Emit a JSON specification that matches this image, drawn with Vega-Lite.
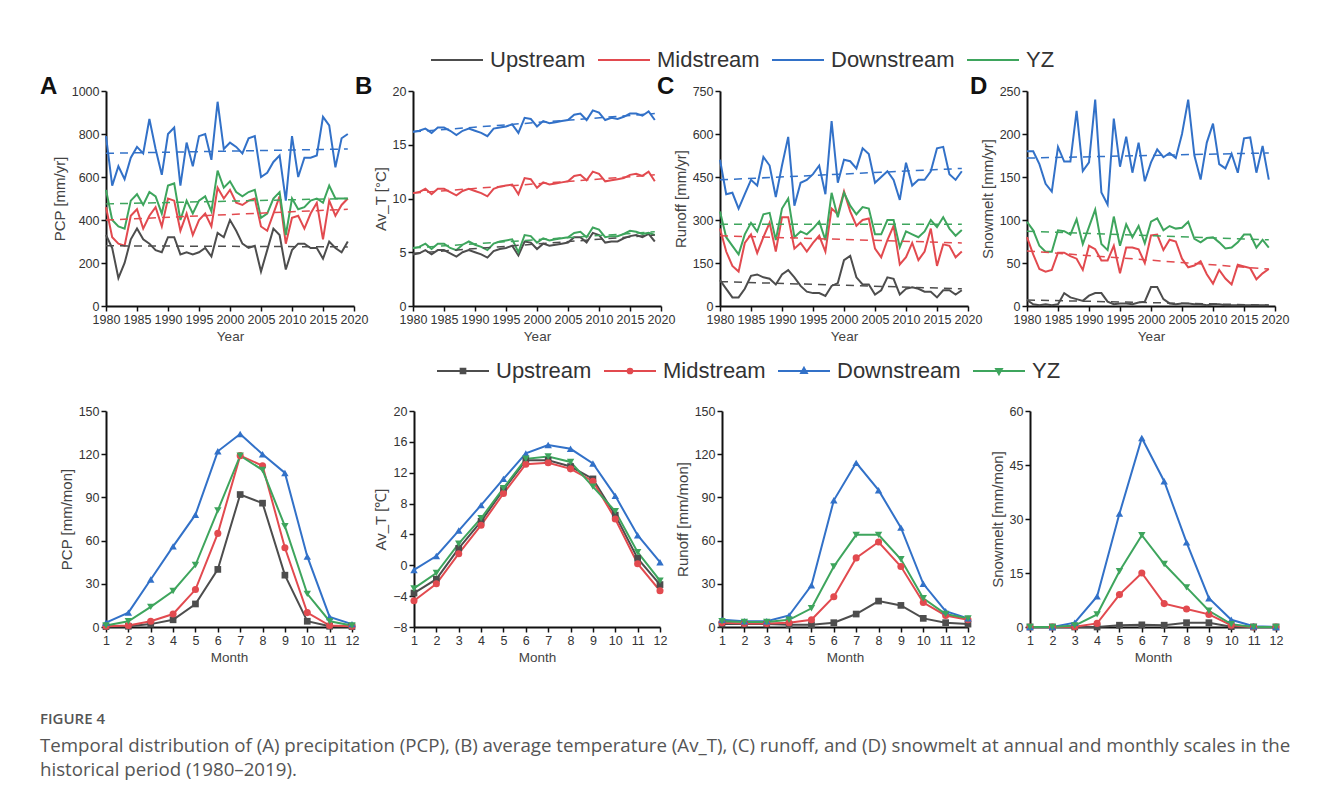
{
"$schema": "https://vega.github.io/schema/vega-lite/v6.json",
"background": "white",
"padding": {"left": 40, "top": 33, "right": 20, "bottom": 20},
"datasets": {
"annual": [
{"v":"PCP","year":1980,"Upstream":330,"Midstream":460,"Downstream":790,"YZ":540},
{"v":"PCP","year":1981,"Upstream":270,"Midstream":320,"Downstream":560,"YZ":400},
{"v":"PCP","year":1982,"Upstream":130,"Midstream":290,"Downstream":650,"YZ":370},
{"v":"PCP","year":1983,"Upstream":200,"Midstream":280,"Downstream":590,"YZ":360},
{"v":"PCP","year":1984,"Upstream":310,"Midstream":420,"Downstream":690,"YZ":490},
{"v":"PCP","year":1985,"Upstream":360,"Midstream":450,"Downstream":740,"YZ":520},
{"v":"PCP","year":1986,"Upstream":310,"Midstream":360,"Downstream":710,"YZ":470},
{"v":"PCP","year":1987,"Upstream":290,"Midstream":420,"Downstream":870,"YZ":530},
{"v":"PCP","year":1988,"Upstream":260,"Midstream":460,"Downstream":730,"YZ":510},
{"v":"PCP","year":1989,"Upstream":250,"Midstream":370,"Downstream":610,"YZ":430},
{"v":"PCP","year":1990,"Upstream":320,"Midstream":500,"Downstream":800,"YZ":560},
{"v":"PCP","year":1991,"Upstream":320,"Midstream":490,"Downstream":830,"YZ":570},
{"v":"PCP","year":1992,"Upstream":240,"Midstream":350,"Downstream":560,"YZ":400},
{"v":"PCP","year":1993,"Upstream":250,"Midstream":430,"Downstream":760,"YZ":490},
{"v":"PCP","year":1994,"Upstream":240,"Midstream":330,"Downstream":650,"YZ":430},
{"v":"PCP","year":1995,"Upstream":250,"Midstream":400,"Downstream":790,"YZ":490},
{"v":"PCP","year":1996,"Upstream":270,"Midstream":430,"Downstream":800,"YZ":510},
{"v":"PCP","year":1997,"Upstream":230,"Midstream":370,"Downstream":680,"YZ":440},
{"v":"PCP","year":1998,"Upstream":340,"Midstream":550,"Downstream":950,"YZ":630},
{"v":"PCP","year":1999,"Upstream":320,"Midstream":500,"Downstream":730,"YZ":550},
{"v":"PCP","year":2000,"Upstream":400,"Midstream":540,"Downstream":760,"YZ":580},
{"v":"PCP","year":2001,"Upstream":350,"Midstream":480,"Downstream":740,"YZ":530},
{"v":"PCP","year":2002,"Upstream":290,"Midstream":470,"Downstream":710,"YZ":510},
{"v":"PCP","year":2003,"Upstream":270,"Midstream":490,"Downstream":780,"YZ":530},
{"v":"PCP","year":2004,"Upstream":280,"Midstream":500,"Downstream":790,"YZ":540},
{"v":"PCP","year":2005,"Upstream":160,"Midstream":370,"Downstream":600,"YZ":410},
{"v":"PCP","year":2006,"Upstream":260,"Midstream":350,"Downstream":620,"YZ":430},
{"v":"PCP","year":2007,"Upstream":360,"Midstream":430,"Downstream":670,"YZ":500},
{"v":"PCP","year":2008,"Upstream":330,"Midstream":510,"Downstream":700,"YZ":530},
{"v":"PCP","year":2009,"Upstream":170,"Midstream":290,"Downstream":490,"YZ":330},
{"v":"PCP","year":2010,"Upstream":260,"Midstream":410,"Downstream":790,"YZ":500},
{"v":"PCP","year":2011,"Upstream":290,"Midstream":420,"Downstream":600,"YZ":450},
{"v":"PCP","year":2012,"Upstream":290,"Midstream":360,"Downstream":690,"YZ":460},
{"v":"PCP","year":2013,"Upstream":270,"Midstream":430,"Downstream":690,"YZ":490},
{"v":"PCP","year":2014,"Upstream":270,"Midstream":480,"Downstream":700,"YZ":500},
{"v":"PCP","year":2015,"Upstream":220,"Midstream":310,"Downstream":880,"YZ":480},
{"v":"PCP","year":2016,"Upstream":300,"Midstream":490,"Downstream":840,"YZ":560},
{"v":"PCP","year":2017,"Upstream":270,"Midstream":420,"Downstream":645,"YZ":500},
{"v":"PCP","year":2018,"Upstream":250,"Midstream":470,"Downstream":780,"YZ":500},
{"v":"PCP","year":2019,"Upstream":300,"Midstream":500,"Downstream":800,"YZ":500},
{"v":"AvT","year":1980,"Upstream":4.8,"Midstream":10.5,"Downstream":16.2,"YZ":5.4},
{"v":"AvT","year":1981,"Upstream":4.9,"Midstream":10.6,"Downstream":16.3,"YZ":5.5},
{"v":"AvT","year":1982,"Upstream":5.2,"Midstream":10.9,"Downstream":16.5,"YZ":5.8},
{"v":"AvT","year":1983,"Upstream":4.8,"Midstream":10.4,"Downstream":16.1,"YZ":5.3},
{"v":"AvT","year":1984,"Upstream":5.2,"Midstream":10.9,"Downstream":16.6,"YZ":5.8},
{"v":"AvT","year":1985,"Upstream":5.2,"Midstream":10.9,"Downstream":16.6,"YZ":5.8},
{"v":"AvT","year":1986,"Upstream":4.9,"Midstream":10.6,"Downstream":16.3,"YZ":5.4},
{"v":"AvT","year":1987,"Upstream":4.6,"Midstream":10.3,"Downstream":15.9,"YZ":5.2},
{"v":"AvT","year":1988,"Upstream":5.0,"Midstream":10.7,"Downstream":16.3,"YZ":5.7},
{"v":"AvT","year":1989,"Upstream":5.2,"Midstream":10.9,"Downstream":16.5,"YZ":6.0},
{"v":"AvT","year":1990,"Upstream":5.0,"Midstream":10.7,"Downstream":16.3,"YZ":5.7},
{"v":"AvT","year":1991,"Upstream":4.8,"Midstream":10.5,"Downstream":16.1,"YZ":5.5},
{"v":"AvT","year":1992,"Upstream":4.5,"Midstream":10.2,"Downstream":15.8,"YZ":5.2},
{"v":"AvT","year":1993,"Upstream":5.1,"Midstream":10.9,"Downstream":16.5,"YZ":5.8},
{"v":"AvT","year":1994,"Upstream":5.3,"Midstream":11.1,"Downstream":16.6,"YZ":6.0},
{"v":"AvT","year":1995,"Upstream":5.4,"Midstream":11.2,"Downstream":16.7,"YZ":6.1},
{"v":"AvT","year":1996,"Upstream":5.6,"Midstream":11.3,"Downstream":16.9,"YZ":6.2},
{"v":"AvT","year":1997,"Upstream":4.7,"Midstream":10.4,"Downstream":16.1,"YZ":5.0},
{"v":"AvT","year":1998,"Upstream":6.0,"Midstream":11.9,"Downstream":17.5,"YZ":6.6},
{"v":"AvT","year":1999,"Upstream":5.9,"Midstream":11.8,"Downstream":17.4,"YZ":6.5},
{"v":"AvT","year":2000,"Upstream":5.3,"Midstream":11.0,"Downstream":16.7,"YZ":5.9},
{"v":"AvT","year":2001,"Upstream":5.8,"Midstream":11.5,"Downstream":17.2,"YZ":6.3},
{"v":"AvT","year":2002,"Upstream":5.6,"Midstream":11.3,"Downstream":17.0,"YZ":6.1},
{"v":"AvT","year":2003,"Upstream":5.7,"Midstream":11.4,"Downstream":17.1,"YZ":6.2},
{"v":"AvT","year":2004,"Upstream":5.8,"Midstream":11.5,"Downstream":17.2,"YZ":6.3},
{"v":"AvT","year":2005,"Upstream":5.9,"Midstream":11.6,"Downstream":17.3,"YZ":6.4},
{"v":"AvT","year":2006,"Upstream":6.4,"Midstream":12.1,"Downstream":17.8,"YZ":6.8},
{"v":"AvT","year":2007,"Upstream":6.4,"Midstream":12.2,"Downstream":17.9,"YZ":6.9},
{"v":"AvT","year":2008,"Upstream":5.9,"Midstream":11.7,"Downstream":17.3,"YZ":6.4},
{"v":"AvT","year":2009,"Upstream":6.8,"Midstream":12.5,"Downstream":18.2,"YZ":7.3},
{"v":"AvT","year":2010,"Upstream":6.6,"Midstream":12.3,"Downstream":18.0,"YZ":7.1},
{"v":"AvT","year":2011,"Upstream":5.9,"Midstream":11.6,"Downstream":17.3,"YZ":6.4},
{"v":"AvT","year":2012,"Upstream":6.0,"Midstream":11.7,"Downstream":17.5,"YZ":6.5},
{"v":"AvT","year":2013,"Upstream":6.0,"Midstream":11.8,"Downstream":17.4,"YZ":6.5},
{"v":"AvT","year":2014,"Upstream":6.3,"Midstream":11.9,"Downstream":17.6,"YZ":6.7},
{"v":"AvT","year":2015,"Upstream":6.5,"Midstream":12.2,"Downstream":17.9,"YZ":7.0},
{"v":"AvT","year":2016,"Upstream":6.6,"Midstream":12.3,"Downstream":17.9,"YZ":6.9},
{"v":"AvT","year":2017,"Upstream":6.4,"Midstream":12.1,"Downstream":17.7,"YZ":6.7},
{"v":"AvT","year":2018,"Upstream":6.7,"Midstream":12.5,"Downstream":18.1,"YZ":6.8},
{"v":"AvT","year":2019,"Upstream":6.0,"Midstream":11.6,"Downstream":17.3,"YZ":6.6},
{"v":"Runoff","year":1980,"Upstream":90,"Midstream":270,"Downstream":510,"YZ":330},
{"v":"Runoff","year":1981,"Upstream":60,"Midstream":190,"Downstream":390,"YZ":240},
{"v":"Runoff","year":1982,"Upstream":30,"Midstream":140,"Downstream":395,"YZ":210},
{"v":"Runoff","year":1983,"Upstream":30,"Midstream":120,"Downstream":340,"YZ":180},
{"v":"Runoff","year":1984,"Upstream":60,"Midstream":220,"Downstream":390,"YZ":250},
{"v":"Runoff","year":1985,"Upstream":105,"Midstream":250,"Downstream":440,"YZ":290},
{"v":"Runoff","year":1986,"Upstream":110,"Midstream":185,"Downstream":420,"YZ":260},
{"v":"Runoff","year":1987,"Upstream":100,"Midstream":240,"Downstream":520,"YZ":320},
{"v":"Runoff","year":1988,"Upstream":95,"Midstream":290,"Downstream":490,"YZ":325},
{"v":"Runoff","year":1989,"Upstream":75,"Midstream":190,"Downstream":380,"YZ":230},
{"v":"Runoff","year":1990,"Upstream":110,"Midstream":310,"Downstream":490,"YZ":340},
{"v":"Runoff","year":1991,"Upstream":125,"Midstream":310,"Downstream":590,"YZ":375},
{"v":"Runoff","year":1992,"Upstream":100,"Midstream":200,"Downstream":350,"YZ":240},
{"v":"Runoff","year":1993,"Upstream":70,"Midstream":220,"Downstream":430,"YZ":260},
{"v":"Runoff","year":1994,"Upstream":50,"Midstream":190,"Downstream":440,"YZ":250},
{"v":"Runoff","year":1995,"Upstream":45,"Midstream":220,"Downstream":460,"YZ":270},
{"v":"Runoff","year":1996,"Upstream":45,"Midstream":245,"Downstream":490,"YZ":295},
{"v":"Runoff","year":1997,"Upstream":35,"Midstream":190,"Downstream":390,"YZ":230},
{"v":"Runoff","year":1998,"Upstream":70,"Midstream":340,"Downstream":645,"YZ":395},
{"v":"Runoff","year":1999,"Upstream":80,"Midstream":320,"Downstream":430,"YZ":310},
{"v":"Runoff","year":2000,"Upstream":160,"Midstream":400,"Downstream":510,"YZ":395},
{"v":"Runoff","year":2001,"Upstream":175,"Midstream":330,"Downstream":505,"YZ":350},
{"v":"Runoff","year":2002,"Upstream":100,"Midstream":280,"Downstream":480,"YZ":320},
{"v":"Runoff","year":2003,"Upstream":75,"Midstream":300,"Downstream":550,"YZ":345},
{"v":"Runoff","year":2004,"Upstream":75,"Midstream":305,"Downstream":530,"YZ":340},
{"v":"Runoff","year":2005,"Upstream":40,"Midstream":200,"Downstream":430,"YZ":250},
{"v":"Runoff","year":2006,"Upstream":55,"Midstream":170,"Downstream":450,"YZ":250},
{"v":"Runoff","year":2007,"Upstream":100,"Midstream":230,"Downstream":470,"YZ":300},
{"v":"Runoff","year":2008,"Upstream":95,"Midstream":280,"Downstream":440,"YZ":300},
{"v":"Runoff","year":2009,"Upstream":40,"Midstream":145,"Downstream":370,"YZ":205},
{"v":"Runoff","year":2010,"Upstream":60,"Midstream":170,"Downstream":500,"YZ":260},
{"v":"Runoff","year":2011,"Upstream":65,"Midstream":220,"Downstream":420,"YZ":250},
{"v":"Runoff","year":2012,"Upstream":60,"Midstream":160,"Downstream":440,"YZ":240},
{"v":"Runoff","year":2013,"Upstream":50,"Midstream":190,"Downstream":440,"YZ":260},
{"v":"Runoff","year":2014,"Upstream":50,"Midstream":270,"Downstream":470,"YZ":300},
{"v":"Runoff","year":2015,"Upstream":30,"Midstream":140,"Downstream":550,"YZ":275},
{"v":"Runoff","year":2016,"Upstream":55,"Midstream":215,"Downstream":555,"YZ":310},
{"v":"Runoff","year":2017,"Upstream":55,"Midstream":210,"Downstream":460,"YZ":270},
{"v":"Runoff","year":2018,"Upstream":40,"Midstream":170,"Downstream":440,"YZ":245},
{"v":"Runoff","year":2019,"Upstream":55,"Midstream":190,"Downstream":470,"YZ":265},
{"v":"Snow","year":1980,"Upstream":7,"Midstream":80,"Downstream":180,"YZ":98},
{"v":"Snow","year":1981,"Upstream":2,"Midstream":60,"Downstream":180,"YZ":88},
{"v":"Snow","year":1982,"Upstream":1,"Midstream":43,"Downstream":165,"YZ":70},
{"v":"Snow","year":1983,"Upstream":2,"Midstream":40,"Downstream":142,"YZ":63},
{"v":"Snow","year":1984,"Upstream":1,"Midstream":42,"Downstream":133,"YZ":63},
{"v":"Snow","year":1985,"Upstream":2,"Midstream":62,"Downstream":185,"YZ":88},
{"v":"Snow","year":1986,"Upstream":15,"Midstream":62,"Downstream":168,"YZ":87},
{"v":"Snow","year":1987,"Upstream":10,"Midstream":58,"Downstream":168,"YZ":83},
{"v":"Snow","year":1988,"Upstream":8,"Midstream":55,"Downstream":227,"YZ":101},
{"v":"Snow","year":1989,"Upstream":6,"Midstream":42,"Downstream":157,"YZ":72},
{"v":"Snow","year":1990,"Upstream":12,"Midstream":70,"Downstream":167,"YZ":92},
{"v":"Snow","year":1991,"Upstream":15,"Midstream":66,"Downstream":240,"YZ":112},
{"v":"Snow","year":1992,"Upstream":15,"Midstream":53,"Downstream":132,"YZ":72},
{"v":"Snow","year":1993,"Upstream":5,"Midstream":53,"Downstream":118,"YZ":65},
{"v":"Snow","year":1994,"Upstream":2,"Midstream":70,"Downstream":218,"YZ":104},
{"v":"Snow","year":1995,"Upstream":3,"Midstream":38,"Downstream":162,"YZ":70},
{"v":"Snow","year":1996,"Upstream":3,"Midstream":68,"Downstream":197,"YZ":95},
{"v":"Snow","year":1997,"Upstream":2,"Midstream":68,"Downstream":155,"YZ":80},
{"v":"Snow","year":1998,"Upstream":4,"Midstream":66,"Downstream":190,"YZ":93},
{"v":"Snow","year":1999,"Upstream":5,"Midstream":50,"Downstream":145,"YZ":73},
{"v":"Snow","year":2000,"Upstream":22,"Midstream":82,"Downstream":167,"YZ":98},
{"v":"Snow","year":2001,"Upstream":22,"Midstream":83,"Downstream":182,"YZ":102},
{"v":"Snow","year":2002,"Upstream":8,"Midstream":65,"Downstream":173,"YZ":88},
{"v":"Snow","year":2003,"Upstream":3,"Midstream":77,"Downstream":178,"YZ":93},
{"v":"Snow","year":2004,"Upstream":2,"Midstream":75,"Downstream":172,"YZ":90},
{"v":"Snow","year":2005,"Upstream":3,"Midstream":55,"Downstream":200,"YZ":91},
{"v":"Snow","year":2006,"Upstream":3,"Midstream":45,"Downstream":240,"YZ":98},
{"v":"Snow","year":2007,"Upstream":2,"Midstream":47,"Downstream":175,"YZ":78},
{"v":"Snow","year":2008,"Upstream":2,"Midstream":52,"Downstream":147,"YZ":74},
{"v":"Snow","year":2009,"Upstream":1,"Midstream":37,"Downstream":190,"YZ":79},
{"v":"Snow","year":2010,"Upstream":2,"Midstream":26,"Downstream":212,"YZ":80},
{"v":"Snow","year":2011,"Upstream":2,"Midstream":42,"Downstream":165,"YZ":74},
{"v":"Snow","year":2012,"Upstream":1,"Midstream":32,"Downstream":160,"YZ":67},
{"v":"Snow","year":2013,"Upstream":1,"Midstream":25,"Downstream":177,"YZ":68},
{"v":"Snow","year":2014,"Upstream":1,"Midstream":48,"Downstream":155,"YZ":74},
{"v":"Snow","year":2015,"Upstream":1,"Midstream":46,"Downstream":195,"YZ":83},
{"v":"Snow","year":2016,"Upstream":1,"Midstream":44,"Downstream":196,"YZ":83},
{"v":"Snow","year":2017,"Upstream":1,"Midstream":31,"Downstream":155,"YZ":68},
{"v":"Snow","year":2018,"Upstream":1,"Midstream":38,"Downstream":186,"YZ":77},
{"v":"Snow","year":2019,"Upstream":1,"Midstream":43,"Downstream":147,"YZ":68}
],
"trend": [
{"v":"PCP","year":1980,"Upstream":280,"Midstream":400,"Downstream":710,"YZ":475},
{"v":"PCP","year":2019,"Upstream":275,"Midstream":450,"Downstream":730,"YZ":500},
{"v":"AvT","year":1980,"Upstream":4.9,"Midstream":10.5,"Downstream":16.2,"YZ":5.4},
{"v":"AvT","year":2019,"Upstream":6.6,"Midstream":12.2,"Downstream":17.9,"YZ":6.9},
{"v":"Runoff","year":1980,"Upstream":85,"Midstream":245,"Downstream":440,"YZ":285},
{"v":"Runoff","year":2019,"Upstream":60,"Midstream":220,"Downstream":480,"YZ":285},
{"v":"Snow","year":1980,"Upstream":7,"Midstream":64,"Downstream":172,"YZ":87},
{"v":"Snow","year":2019,"Upstream":1,"Midstream":43,"Downstream":178,"YZ":77}
],
"monthly": [
{"v":"PCP","month":1,"Upstream":0.3,"Midstream":0.5,"Downstream":3,"YZ":1},
{"v":"PCP","month":2,"Upstream":0.5,"Midstream":1,"Downstream":10,"YZ":4},
{"v":"PCP","month":3,"Upstream":2,"Midstream":4,"Downstream":33,"YZ":14},
{"v":"PCP","month":4,"Upstream":5,"Midstream":9,"Downstream":56,"YZ":25},
{"v":"PCP","month":5,"Upstream":16,"Midstream":26,"Downstream":78,"YZ":43},
{"v":"PCP","month":6,"Upstream":40,"Midstream":65,"Downstream":122,"YZ":81},
{"v":"PCP","month":7,"Upstream":92,"Midstream":119,"Downstream":134,"YZ":119},
{"v":"PCP","month":8,"Upstream":86,"Midstream":112,"Downstream":120,"YZ":109},
{"v":"PCP","month":9,"Upstream":36,"Midstream":55,"Downstream":107,"YZ":70},
{"v":"PCP","month":10,"Upstream":4,"Midstream":10,"Downstream":49,"YZ":23},
{"v":"PCP","month":11,"Upstream":0.5,"Midstream":1,"Downstream":7,"YZ":4},
{"v":"PCP","month":12,"Upstream":0.3,"Midstream":0.5,"Downstream":2,"YZ":1},
{"v":"AvT","month":1,"Upstream":-3.6,"Midstream":-4.6,"Downstream":-0.6,"YZ":-3.0},
{"v":"AvT","month":2,"Upstream":-1.8,"Midstream":-2.4,"Downstream":1.2,"YZ":-1.0},
{"v":"AvT","month":3,"Upstream":2.2,"Midstream":1.5,"Downstream":4.5,"YZ":2.8},
{"v":"AvT","month":4,"Upstream":5.7,"Midstream":5.2,"Downstream":7.8,"YZ":6.1},
{"v":"AvT","month":5,"Upstream":9.8,"Midstream":9.3,"Downstream":11.2,"YZ":10.0},
{"v":"AvT","month":6,"Upstream":13.6,"Midstream":13.1,"Downstream":14.5,"YZ":13.8},
{"v":"AvT","month":7,"Upstream":13.6,"Midstream":13.3,"Downstream":15.6,"YZ":14.1},
{"v":"AvT","month":8,"Upstream":12.8,"Midstream":12.5,"Downstream":15.1,"YZ":13.4},
{"v":"AvT","month":9,"Upstream":11.2,"Midstream":10.9,"Downstream":13.2,"YZ":10.2},
{"v":"AvT","month":10,"Upstream":6.5,"Midstream":6.0,"Downstream":9.0,"YZ":7.0},
{"v":"AvT","month":11,"Upstream":0.9,"Midstream":0.2,"Downstream":3.9,"YZ":1.7},
{"v":"AvT","month":12,"Upstream":-2.5,"Midstream":-3.3,"Downstream":0.4,"YZ":-2.0},
{"v":"Runoff","month":1,"Upstream":2,"Midstream":3,"Downstream":5,"YZ":4},
{"v":"Runoff","month":2,"Upstream":2,"Midstream":2.5,"Downstream":4,"YZ":3.5},
{"v":"Runoff","month":3,"Upstream":2,"Midstream":2.5,"Downstream":4,"YZ":3.5},
{"v":"Runoff","month":4,"Upstream":1.5,"Midstream":3,"Downstream":8,"YZ":5},
{"v":"Runoff","month":5,"Upstream":1.5,"Midstream":5,"Downstream":29,"YZ":13},
{"v":"Runoff","month":6,"Upstream":3,"Midstream":21,"Downstream":88,"YZ":42},
{"v":"Runoff","month":7,"Upstream":9,"Midstream":48,"Downstream":114,"YZ":64},
{"v":"Runoff","month":8,"Upstream":18,"Midstream":59,"Downstream":95,"YZ":64},
{"v":"Runoff","month":9,"Upstream":15,"Midstream":42,"Downstream":69,"YZ":47},
{"v":"Runoff","month":10,"Upstream":6,"Midstream":17,"Downstream":30,"YZ":20},
{"v":"Runoff","month":11,"Upstream":3,"Midstream":8,"Downstream":11,"YZ":9},
{"v":"Runoff","month":12,"Upstream":2,"Midstream":5,"Downstream":6,"YZ":6},
{"v":"Snow","month":1,"Upstream":0,"Midstream":0,"Downstream":0,"YZ":0},
{"v":"Snow","month":2,"Upstream":0,"Midstream":0,"Downstream":0,"YZ":0},
{"v":"Snow","month":3,"Upstream":0,"Midstream":0.1,"Downstream":1.2,"YZ":0.4},
{"v":"Snow","month":4,"Upstream":0,"Midstream":1,"Downstream":8.5,"YZ":3.5},
{"v":"Snow","month":5,"Upstream":0.5,"Midstream":9,"Downstream":31.5,"YZ":15.5},
{"v":"Snow","month":6,"Upstream":0.6,"Midstream":15,"Downstream":52.5,"YZ":25.5},
{"v":"Snow","month":7,"Upstream":0.5,"Midstream":6.5,"Downstream":40.5,"YZ":17.5},
{"v":"Snow","month":8,"Upstream":1.2,"Midstream":5,"Downstream":23.5,"YZ":11},
{"v":"Snow","month":9,"Upstream":1.2,"Midstream":3.5,"Downstream":8,"YZ":4.5},
{"v":"Snow","month":10,"Upstream":0.1,"Midstream":0.5,"Downstream":2,"YZ":0.8},
{"v":"Snow","month":11,"Upstream":0,"Midstream":0,"Downstream":0.2,"YZ":0},
{"v":"Snow","month":12,"Upstream":0,"Midstream":0,"Downstream":0,"YZ":0}
]
},
"title": {
"text": "FIGURE 4",
"subtitle": ["Temporal distribution of (A) precipitation (PCP), (B) average temperature (Av_T), (C) runoff, and (D) snowmelt at annual and monthly scales in the", "historical period (1980–2019)."],
"orient": "bottom", "anchor": "start", "frame": "bounds", "offset": 48,
"font": "Open Sans", "fontSize": 15, "fontWeight": 600, "color": "#555",
"subtitleFont": "Open Sans", "subtitleFontSize": 18.7, "subtitleColor": "#555", "subtitlePadding": 10, "subtitleLineHeight": 23.5
},
"bounds": "full",
"spacing": 1,
"resolve": {"scale": {"color": "independent", "shape": "independent"}},
"vconcat": [
{
"bounds": "flush",
"spacing": 59,
"hconcat": [
{
"width": 248, "height": 215,
"title": {"text": "A", "anchor": "start", "frame": "group", "dx": -66, "dy": 33, "offset": 0, "baseline": "alphabetic", "fontSize": 24, "fontWeight": "bold", "font": "Liberation Sans", "color": "#111"},
"encoding": {
"x": {"field": "year", "type": "quantitative", "scale": {"domain": [1980, 2020], "nice": false, "zero": false}, "axis": {"values": [1980,1985,1990,1995,2000,2005,2010,2015,2020], "format": "d", "title": "Year"}},
"y": {"field": "val", "type": "quantitative", "scale": {"domain": [0, 1000], "nice": false}, "axis": {"values": [0,200,400,600,800,1000], "format": "d", "title": "PCP [mm/yr]"}},
"color": {"field": "region", "type": "nominal", "scale": {"domain": ["Upstream","Midstream","Downstream","YZ"], "range": ["#4d4d4d","#e24a4f","#3271c8","#3ea55d"]},
"legend": {"title": null, "orient": "none", "legendX": 324, "legendY": -58, "direction": "horizontal", "symbolType": "stroke", "symbolSize": 2704, "symbolStrokeWidth": 2, "labelFontSize": 22, "labelFont": "Liberation Sans", "labelColor": "#333", "labelOffset": 6, "columnPadding": 8}}
},
"layer": [
{"data": {"name": "annual"}, "transform": [{"filter": "datum.v === 'PCP'"}, {"fold": ["Upstream","Midstream","Downstream","YZ"], "as": ["region","val"]}], "mark": {"type": "line", "strokeWidth": 2}},
{"data": {"name": "trend"}, "transform": [{"filter": "datum.v === 'PCP'"}, {"fold": ["Upstream","Midstream","Downstream","YZ"], "as": ["region","val"]}], "mark": {"type": "line", "strokeWidth": 1.5, "strokeDash": [8, 6]}}
]
},
{
"width": 248, "height": 215,
"title": {"text": "B", "anchor": "start", "frame": "group", "dx": -58, "dy": 33, "offset": 0, "baseline": "alphabetic", "fontSize": 24, "fontWeight": "bold", "font": "Liberation Sans", "color": "#111"},
"encoding": {
"x": {"field": "year", "type": "quantitative", "scale": {"domain": [1980, 2020], "nice": false, "zero": false}, "axis": {"values": [1980,1985,1990,1995,2000,2005,2010,2015,2020], "format": "d", "title": "Year"}},
"y": {"field": "val", "type": "quantitative", "scale": {"domain": [0, 20], "nice": false}, "axis": {"values": [0,5,10,15,20], "format": "d", "title": "Av_T [°C]"}},
"color": {"field": "region", "type": "nominal"}
},
"layer": [
{"data": {"name": "annual"}, "transform": [{"filter": "datum.v === 'AvT'"}, {"fold": ["Upstream","Midstream","Downstream","YZ"], "as": ["region","val"]}], "mark": {"type": "line", "strokeWidth": 2}},
{"data": {"name": "trend"}, "transform": [{"filter": "datum.v === 'AvT'"}, {"fold": ["Upstream","Midstream","Downstream","YZ"], "as": ["region","val"]}], "mark": {"type": "line", "strokeWidth": 1.5, "strokeDash": [8, 6]}}
]
},
{
"width": 248, "height": 215,
"title": {"text": "C", "anchor": "start", "frame": "group", "dx": -63, "dy": 33, "offset": 0, "baseline": "alphabetic", "fontSize": 24, "fontWeight": "bold", "font": "Liberation Sans", "color": "#111"},
"encoding": {
"x": {"field": "year", "type": "quantitative", "scale": {"domain": [1980, 2020], "nice": false, "zero": false}, "axis": {"values": [1980,1985,1990,1995,2000,2005,2010,2015,2020], "format": "d", "title": "Year"}},
"y": {"field": "val", "type": "quantitative", "scale": {"domain": [0, 750], "nice": false}, "axis": {"values": [0,150,300,450,600,750], "format": "d", "title": "Runoff [mm/yr]"}},
"color": {"field": "region", "type": "nominal"}
},
"layer": [
{"data": {"name": "annual"}, "transform": [{"filter": "datum.v === 'Runoff'"}, {"fold": ["Upstream","Midstream","Downstream","YZ"], "as": ["region","val"]}], "mark": {"type": "line", "strokeWidth": 2}},
{"data": {"name": "trend"}, "transform": [{"filter": "datum.v === 'Runoff'"}, {"fold": ["Upstream","Midstream","Downstream","YZ"], "as": ["region","val"]}], "mark": {"type": "line", "strokeWidth": 1.5, "strokeDash": [8, 6]}}
]
},
{
"width": 248, "height": 215,
"title": {"text": "D", "anchor": "start", "frame": "group", "dx": -57, "dy": 33, "offset": 0, "baseline": "alphabetic", "fontSize": 24, "fontWeight": "bold", "font": "Liberation Sans", "color": "#111"},
"encoding": {
"x": {"field": "year", "type": "quantitative", "scale": {"domain": [1980, 2020], "nice": false, "zero": false}, "axis": {"values": [1980,1985,1990,1995,2000,2005,2010,2015,2020], "format": "d", "title": "Year"}},
"y": {"field": "val", "type": "quantitative", "scale": {"domain": [0, 250], "nice": false}, "axis": {"values": [0,50,100,150,200,250], "format": "d", "title": "Snowmelt [mm/yr]"}},
"color": {"field": "region", "type": "nominal"}
},
"layer": [
{"data": {"name": "annual"}, "transform": [{"filter": "datum.v === 'Snow'"}, {"fold": ["Upstream","Midstream","Downstream","YZ"], "as": ["region","val"]}], "mark": {"type": "line", "strokeWidth": 2}},
{"data": {"name": "trend"}, "transform": [{"filter": "datum.v === 'Snow'"}, {"fold": ["Upstream","Midstream","Downstream","YZ"], "as": ["region","val"]}], "mark": {"type": "line", "strokeWidth": 1.5, "strokeDash": [8, 6]}}
]
}
]
},
{
"bounds": "flush",
"spacing": 62,
"hconcat": [
{
"width": 246, "height": 216,
"data": {"name": "monthly"},
"transform": [{"filter": "datum.v === 'PCP'"}, {"fold": ["Upstream","Midstream","Downstream","YZ"], "as": ["region","val"]}],
"encoding": {
"x": {"field": "month", "type": "quantitative", "scale": {"domain": [1, 12], "nice": false, "zero": false}, "axis": {"values": [1,2,3,4,5,6,7,8,9,10,11,12], "format": "d", "title": "Month"}},
"y": {"field": "val", "type": "quantitative", "scale": {"domain": [0, 150], "nice": false}, "axis": {"values": [0,30,60,90,120,150], "format": "d", "title": "PCP [mm/mon]"}},
"color": {"field": "region", "type": "nominal", "scale": {"domain": ["Upstream","Midstream","Downstream","YZ"], "range": ["#4d4d4d","#e24a4f","#3271c8","#3ea55d"]},
"legend": {"title": null, "orient": "none", "legendX": 330, "legendY": -67, "direction": "horizontal", "symbolSize": 2704, "symbolStrokeWidth": 2, "labelFontSize": 22, "labelFont": "Liberation Sans", "labelColor": "#333", "labelOffset": 6, "columnPadding": 8}}
},
"layer": [
{"mark": {"type": "line", "strokeWidth": 2}},
{"transform": [{"filter": "datum.region === 'Upstream'"}], "mark": {"type": "point", "shape": "square", "filled": true, "size": 45, "opacity": 1}},
{"transform": [{"filter": "datum.region === 'Midstream'"}], "mark": {"type": "point", "shape": "circle", "filled": true, "size": 50, "opacity": 1}},
{"transform": [{"filter": "datum.region === 'Downstream'"}], "mark": {"type": "point", "shape": "triangle-up", "filled": true, "size": 55, "opacity": 1}},
{"transform": [{"filter": "datum.region === 'YZ'"}], "mark": {"type": "point", "shape": "triangle-down", "filled": true, "size": 55, "opacity": 1}},
{"transform": [{"filter": "false"}], "mark": {"type": "point", "filled": true, "opacity": 1}, "encoding": {"shape": {"field": "region", "type": "nominal", "scale": {"domain": ["Upstream","Midstream","Downstream","YZ"], "range": ["M-1,0H1M-0.09,-0.09H0.09V0.09H-0.09Z", "M-1,0H1M-0.09,0A0.09,0.09 0 1,1 0.09,0A0.09,0.09 0 1,1 -0.09,0Z", "M-1,0H1M0,-0.12L0.11,0.08H-0.11Z", "M-1,0H1M0,0.12L0.11,-0.08H-0.11Z"]}}}}
]
},
{
"width": 246, "height": 216,
"data": {"name": "monthly"},
"transform": [{"filter": "datum.v === 'AvT'"}, {"fold": ["Upstream","Midstream","Downstream","YZ"], "as": ["region","val"]}],
"encoding": {
"x": {"field": "month", "type": "quantitative", "scale": {"domain": [1, 12], "nice": false, "zero": false}, "axis": {"values": [1,2,3,4,5,6,7,8,9,10,11,12], "format": "d", "title": "Month"}},
"y": {"field": "val", "type": "quantitative", "scale": {"domain": [-8, 20], "nice": false, "zero": false}, "axis": {"values": [-8,-4,0,4,8,12,16,20], "format": "d", "title": "Av_T  [℃]"}},
"color": {"field": "region", "type": "nominal"}
},
"layer": [
{"mark": {"type": "line", "strokeWidth": 2}},
{"transform": [{"filter": "datum.region === 'Upstream'"}], "mark": {"type": "point", "shape": "square", "filled": true, "size": 45, "opacity": 1}},
{"transform": [{"filter": "datum.region === 'Midstream'"}], "mark": {"type": "point", "shape": "circle", "filled": true, "size": 50, "opacity": 1}},
{"transform": [{"filter": "datum.region === 'Downstream'"}], "mark": {"type": "point", "shape": "triangle-up", "filled": true, "size": 55, "opacity": 1}},
{"transform": [{"filter": "datum.region === 'YZ'"}], "mark": {"type": "point", "shape": "triangle-down", "filled": true, "size": 55, "opacity": 1}}
]
},
{
"width": 246, "height": 216,
"data": {"name": "monthly"},
"transform": [{"filter": "datum.v === 'Runoff'"}, {"fold": ["Upstream","Midstream","Downstream","YZ"], "as": ["region","val"]}],
"encoding": {
"x": {"field": "month", "type": "quantitative", "scale": {"domain": [1, 12], "nice": false, "zero": false}, "axis": {"values": [1,2,3,4,5,6,7,8,9,10,11,12], "format": "d", "title": "Month"}},
"y": {"field": "val", "type": "quantitative", "scale": {"domain": [0, 150], "nice": false}, "axis": {"values": [0,30,60,90,120,150], "format": "d", "title": "Runoff [mm/mon]"}},
"color": {"field": "region", "type": "nominal"}
},
"layer": [
{"mark": {"type": "line", "strokeWidth": 2}},
{"transform": [{"filter": "datum.region === 'Upstream'"}], "mark": {"type": "point", "shape": "square", "filled": true, "size": 45, "opacity": 1}},
{"transform": [{"filter": "datum.region === 'Midstream'"}], "mark": {"type": "point", "shape": "circle", "filled": true, "size": 50, "opacity": 1}},
{"transform": [{"filter": "datum.region === 'Downstream'"}], "mark": {"type": "point", "shape": "triangle-up", "filled": true, "size": 55, "opacity": 1}},
{"transform": [{"filter": "datum.region === 'YZ'"}], "mark": {"type": "point", "shape": "triangle-down", "filled": true, "size": 55, "opacity": 1}}
]
},
{
"width": 246, "height": 216,
"data": {"name": "monthly"},
"transform": [{"filter": "datum.v === 'Snow'"}, {"fold": ["Upstream","Midstream","Downstream","YZ"], "as": ["region","val"]}],
"encoding": {
"x": {"field": "month", "type": "quantitative", "scale": {"domain": [1, 12], "nice": false, "zero": false}, "axis": {"values": [1,2,3,4,5,6,7,8,9,10,11,12], "format": "d", "title": "Month"}},
"y": {"field": "val", "type": "quantitative", "scale": {"domain": [0, 60], "nice": false}, "axis": {"values": [0,15,30,45,60], "format": "d", "title": "Snowmelt [mm/mon]"}},
"color": {"field": "region", "type": "nominal"}
},
"layer": [
{"mark": {"type": "line", "strokeWidth": 2}},
{"transform": [{"filter": "datum.region === 'Upstream'"}], "mark": {"type": "point", "shape": "square", "filled": true, "size": 45, "opacity": 1}},
{"transform": [{"filter": "datum.region === 'Midstream'"}], "mark": {"type": "point", "shape": "circle", "filled": true, "size": 50, "opacity": 1}},
{"transform": [{"filter": "datum.region === 'Downstream'"}], "mark": {"type": "point", "shape": "triangle-up", "filled": true, "size": 55, "opacity": 1}},
{"transform": [{"filter": "datum.region === 'YZ'"}], "mark": {"type": "point", "shape": "triangle-down", "filled": true, "size": 55, "opacity": 1}}
]
}
]
}
],
"config": {
"view": {"stroke": null},
"font": "Liberation Sans",
"axis": {"domainColor": "#111", "domainWidth": 2, "tickColor": "#111", "tickWidth": 1.5, "tickSize": 5, "labelFont": "Liberation Sans", "labelFontSize": 12.5, "labelColor": "#333", "labelPadding": 2, "titleFont": "Liberation Sans", "titleFontSize": 15, "titleFontWeight": "normal", "titleColor": "#444", "grid": false, "labelFlush": false, "labelOverlap": false, "titlePadding": 4},
"axisX": {"titleFontSize": 13.5}
}
}
